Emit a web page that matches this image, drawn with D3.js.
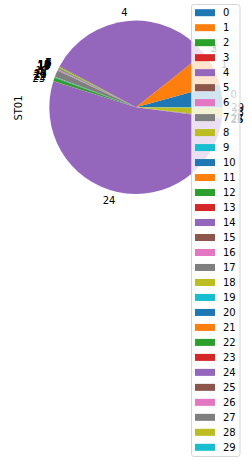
<!DOCTYPE html>
<html>
<head>
<meta charset="utf-8">
<script src="https://cdn.jsdelivr.net/npm/d3@7"></script>
<style>
  body { margin: 0; background: #fff; }
  svg { display: block; font-family: "DejaVu Sans", sans-serif; }
</style>
</head>
<body>
<svg id="chart" width="252" height="465"></svg>
<script>
// slice labels (also legend entries)
const categories = ['0','1','2','3','4','5','6','7','8','9','10','11','12','13','14',
  '15','16','17','18','19','20','21','22','23','24','25','26','27','28','29'];
// shares (sum ~ 360)
const values = [15.5, 22.8, 0.1, 0.1, 113, 0.6, 0, 0.2, 0.8, 0, 0.3, 0, 0.5, 0, 0.3,
  0, 0.7, 4.5, 0.1, 0.2, 0.3, 0.1, 2.3, 0.1, 190, 0.3, 0.2, 0.5, 6.2, 0.3];
const yLabel = 'ST01';

const svg = d3.select('#chart');
const cx = 136, cy = 107.3, r = 86.7;

const color = d3.scaleOrdinal().domain(categories).range(d3.schemeCategory10);

// matplotlib style: start at 3 o'clock, go counterclockwise
const pie = d3.pie()
  .sort(null)
  .value(d => d.v)
  .startAngle(Math.PI / 2)
  .endAngle(Math.PI / 2 - 2 * Math.PI);

const arc = d3.arc().innerRadius(0).outerRadius(r);

const data = categories.map((c, i) => ({ c: c, v: values[i] }));
const arcs = pie(data);

const g = svg.append('g').attr('transform', `translate(${cx},${cy})`);

g.selectAll('path.slice')
  .data(arcs)
  .enter().append('path')
  .attr('class', 'slice')
  .attr('d', arc)
  .attr('fill', d => color(d.data.c));

// labels at 1.1 * radius
g.selectAll('text.lbl')
  .data(arcs)
  .enter().append('text')
  .attr('class', 'lbl')
  .each(function (d) {
    const a = (d.startAngle + d.endAngle) / 2;
    const x = 1.1 * r * Math.sin(a);
    const y = -1.1 * r * Math.cos(a);
    d3.select(this)
      .attr('x', x)
      .attr('y', y)
      .attr('text-anchor', x > 0 ? 'start' : 'end');
  })
  .attr('dominant-baseline', 'central')
  .attr('font-size', 10)
  .attr('fill', '#000')
  .text(d => d.data.c);

// y label
svg.append('text')
  .attr('transform', `translate(18,108) rotate(-90)`)
  .attr('text-anchor', 'middle')
  .attr('dominant-baseline', 'central')
  .attr('font-size', 10)
  .text(yLabel);

// legend
const legY = d3.scalePoint().domain(categories).range([12.7, 447.3]);
const leg = svg.append('g');

leg.append('rect')
  .attr('x', 191.5).attr('y', 4.5)
  .attr('width', 48.5).attr('height', 452)
  .attr('rx', 2.5)
  .attr('fill', 'rgba(255,255,255,0.8)')
  .attr('stroke', 'rgba(204,204,204,0.8)')
  .attr('stroke-width', 1);

const items = leg.selectAll('g.item')
  .data(categories)
  .enter().append('g')
  .attr('class', 'item')
  .attr('transform', d => `translate(0,${legY(d)})`);

items.append('rect')
  .attr('x', 195).attr('y', -3.5)
  .attr('width', 20).attr('height', 7)
  .attr('fill', d => color(d));

items.append('text')
  .attr('x', 223).attr('y', 0)
  .attr('dominant-baseline', 'central')
  .attr('font-size', 10)
  .text(d => d);
</script>
</body>
</html>
